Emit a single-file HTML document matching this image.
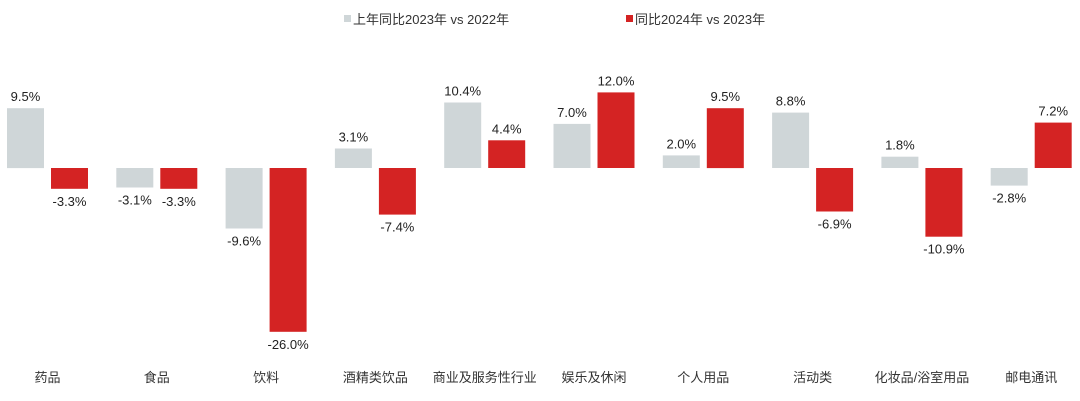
<!DOCTYPE html>
<html><head><meta charset="utf-8"><style>
html,body{margin:0;padding:0;background:#fff;width:1080px;height:401px;overflow:hidden}
svg{display:block;font-family:"Liberation Sans","Noto Sans CJK SC",sans-serif}
</style></head><body>
<svg width="1080" height="401" viewBox="0 0 1080 401" xmlns="http://www.w3.org/2000/svg">
<rect x="344" y="15" width="7" height="7" fill="#cfd6d8"/>
<text x="353" y="24" font-size="13" fill="#333">上年同比2023年 vs 2022年</text>
<rect x="626" y="15" width="7" height="7" fill="#d42323"/>
<text x="635" y="24" font-size="13" fill="#333">同比2024年 vs 2023年</text>
<g id="bars"></g>
</svg>
<script>
var cats=["药品","食品","饮料","酒精类饮品","商业及服务性行业","娱乐及休闲","个人用品","活动类","化妆品/浴室用品","邮电通讯"];
var a=[9.5,-3.1,-9.6,3.1,10.4,7.0,2.0,8.8,1.8,-2.8];
var b=[-3.3,-3.3,-26.0,-7.4,4.4,12.0,9.5,-6.9,-10.9,7.2];
var g=document.getElementById("bars"),s="",base=168,k=6.3;
function bar(x,v,c){var h=Math.abs(v)*k,y=v>=0?base-h:base;
s+='<rect x="'+x.toFixed(1)+'" y="'+y.toFixed(1)+'" width="37" height="'+h.toFixed(1)+'" fill="'+c+'"/>';
var ty=v>=0?base-h-7:base+h+17;
s+='<text x="'+(x+18.5).toFixed(1)+'" y="'+ty.toFixed(1)+'" font-size="13" fill="#222" text-anchor="middle">'+v.toFixed(1)+'%</text>';}
for(var i=0;i<10;i++){var x=7+i*109.3;bar(x,a[i],"#cfd6d8");bar(x+44,b[i],"#d42323");
s+='<text x="'+(x+40.5).toFixed(1)+'" y="382" font-size="13" fill="#333" text-anchor="middle">'+cats[i]+'</text>';}
g.innerHTML=s;
</script>
</body></html>
